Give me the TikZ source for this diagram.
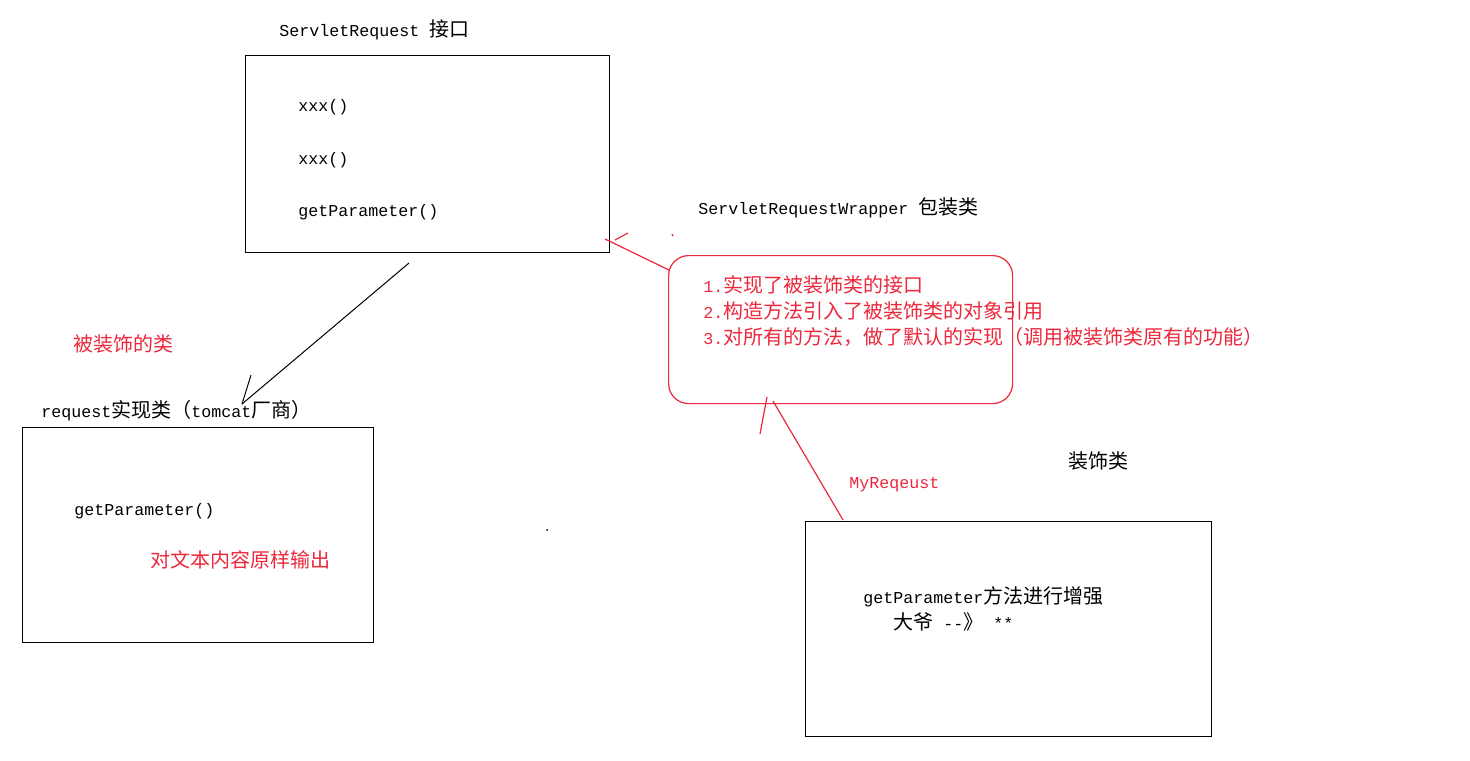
\documentclass[tikz,border=0pt]{standalone}
\usepackage{fontspec}
\setmainfont{Liberation Mono}[Scale=0.833,Ligatures=NoCommon]
\newfontfamily\cjk{Noto Sans CJK SC}
\newcommand\zh[1]{{\cjk #1}}
\definecolor{myred}{RGB}{236,40,60}
\begin{document}
\begin{tikzpicture}[x=0.5pt,y=-0.5pt,
  lbl/.style={anchor=west,inner sep=0,font=\fontsize{10pt}{12pt}\selectfont},
  rlbl/.style={lbl,text=myred},
  box/.style={draw=black,line width=0.6pt},
  rline/.style={draw=myred,line width=0.6pt},
  bline/.style={draw=black,line width=0.5pt}]
\useasboundingbox[fill=white] (0,0) rectangle (1470,760);

% interface
\node[lbl] (ifttl) at (279,30) {ServletRequest \zh{接口}};
\node[box,minimum width=182pt,minimum height=98.5pt,anchor=north west,inner sep=0] (iface) at (245,55) {};
\node[lbl] (m1) at (298,107) {xxx()};
\node[lbl] (m2) at (298,160) {xxx()};
\node[lbl] (m3) at (298,212) {getParameter()};

% wrapper
\node[lbl] (wttl) at (698,208) {ServletRequestWrapper \zh{包装类}};
\node[rline,rounded corners=10pt,minimum width=172pt,minimum height=74pt,anchor=north west,inner sep=0] (wrap) at (668,255) {};
\node[rlbl] (w1) at (703,285) {1.\zh{实现了被装饰类的接口}};
\node[rlbl] (w2) at (703,311) {2.\zh{构造方法引入了被装饰类的对象引用}};
\node[rlbl] (w3) at (703,337) {3.\zh{对所有的方法，做了默认的实现（调用被装饰类原有的功能）}};
\coordinate (tick) at (672,234);
\draw[rline] (tick) -- ++(1,2);
\coordinate (wa) at (669,270);
\coordinate (wb) at (605,239);
\coordinate (wc) at (615,240);
\coordinate (wd) at (628,233);
\draw[rline] (wa) -- (wb);
\draw[rline] (wc) -- (wd);

% implementation
\node[rlbl] (deco) at (73,344) {\zh{被装饰的类}};
\node[lbl] (impttl) at (41,411) {request\zh{实现类（}tomcat\zh{厂商）}};
\node[box,minimum width=175.5pt,minimum height=107.5pt,anchor=north west,inner sep=0] (impl) at (22,427) {};
\node[lbl] (i1) at (74,511) {getParameter()};
\node[rlbl] (i2) at (150,560) {\zh{对文本内容原样输出}};
\coordinate (ia) at (409,263);
\coordinate (ib) at (242,404);
\coordinate (ic) at (251,375);
\draw[bline] (ia) -- (ib);
\draw[bline] (ic) -- (ib);

\coordinate (dot) at (547,530);
\fill[black] (dot) circle (1);

% MyRequest
\node[rlbl] (myr) at (849,485) {MyReqeust};
\node[lbl] (dttl) at (1068,461) {\zh{装饰类}};
\node[box,minimum width=203pt,minimum height=107.5pt,anchor=north west,inner sep=0] (myreq) at (805,521) {};
\node[lbl] (r1) at (863,597) {getParameter\zh{方法进行增强}};
\node[lbl] (r2) at (893,622) {\zh{大爷} \mbox{-}\mbox{-}\zh{》} **};
\coordinate (ma) at (843,520);
\coordinate (mb) at (773,401);
\coordinate (mc) at (767,397);
\coordinate (md) at (760,434);
\draw[rline] (ma) -- (mb);
\draw[rline] (mc) -- (md);
\end{tikzpicture}
\end{document}
